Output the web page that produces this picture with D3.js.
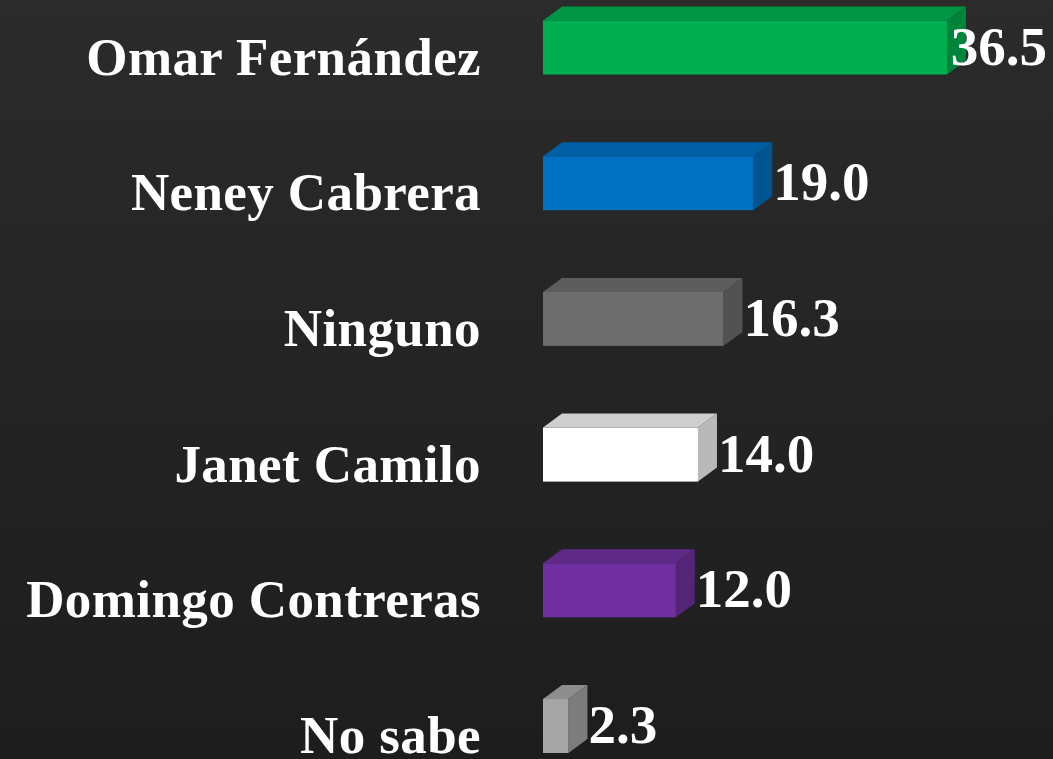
<!DOCTYPE html>
<meta charset="utf-8">
<style>
body { margin: 0; background: #222; }
svg { display: block; }
.cat, .val {
  font-family: "Liberation Serif", "DejaVu Serif", serif;
  font-weight: bold;
  fill: #fff;
}
</style>
<body>
<script src="https://d3js.org/d3.v7.min.js"></script>
<script>

// data
var names = ["Omar Fernández", "Neney Cabrera", "Ninguno", "Janet Camilo", "Domingo Contreras", "No sabe"];
var values = [36.5, 19.0, 16.3, 14.0, 12.0, 2.3];
var frontColors = ["#00b050", "#0070c0", "#6d6d6d", "#ffffff", "#7030a0", "#a5a5a5"];

var width = 1053, height = 759;
var barH = 54, dx = 19, dy = -14;

var svg = d3.select("body").append("svg")
    .attr("width", width)
    .attr("height", height);

// dark background
var defs = svg.append("defs");
var grad = defs.append("linearGradient")
    .attr("id", "bg").attr("x1", 0).attr("y1", 0).attr("x2", 0).attr("y2", 1);
grad.append("stop").attr("offset", "0%").attr("stop-color", "#2b2b2b");
grad.append("stop").attr("offset", "100%").attr("stop-color", "#1d1d1d");
svg.append("rect").attr("width", width).attr("height", height).attr("fill", "url(#bg)");

// scales
var x = d3.scaleLinear().domain([0, 36.5]).range([543, 947]);
var y = d3.scalePoint().domain(names).range([47.5, 726]);

var rows = names.map(function(n, i) {
  return {name: n, value: values[i], color: frontColors[i]};
});

var g = svg.selectAll(".bar").data(rows).enter().append("g").attr("class", "bar");

// top face
g.append("path")
    .attr("d", function(d) {
      var x0 = x(0), x1 = x(d.value), t = y(d.name) - barH / 2;
      return "M" + x0 + "," + t + "L" + (x0 + dx) + "," + (t + dy) +
             "L" + (x1 + dx) + "," + (t + dy) + "L" + x1 + "," + t + "Z";
    })
    .attr("fill", function(d) { return d3.color(d.color).darker(d.color == "#ffffff" ? 0.6 : 0.45); });

// side face
g.append("path")
    .attr("d", function(d) {
      var x1 = x(d.value), t = y(d.name) - barH / 2, b = t + barH;
      return "M" + x1 + "," + t + "L" + (x1 + dx) + "," + (t + dy) +
             "L" + (x1 + dx) + "," + (b + dy) + "L" + x1 + "," + b + "Z";
    })
    .attr("fill", function(d) { return d3.color(d.color).darker(d.color == "#ffffff" ? 0.9 : 0.8); });

// front face
g.append("rect")
    .attr("x", x(0))
    .attr("y", function(d) { return y(d.name) - barH / 2; })
    .attr("width", function(d) { return x(d.value) - x(0); })
    .attr("height", barH)
    .attr("fill", function(d) { return d.color; });

// category labels
svg.selectAll(".cat").data(rows).enter().append("text")
    .attr("class", "cat")
    .attr("x", 481)
    .attr("y", function(d) { return y(d.name) + 27; })
    .attr("text-anchor", "end")
    .style("font-size", "53px")
    .style("letter-spacing", "0.4px")
    .text(function(d) { return d.name; });

// value labels, pushed back inside the frame if they would overflow
svg.selectAll(".val").data(rows).enter().append("text")
    .attr("class", "val")
    .attr("y", function(d) { return y(d.name) + 17; })
    .style("font-size", "55px")
    .text(function(d) { return d.value.toFixed(1); })
    .attr("x", function(d) {
      var w = this.getComputedTextLength();
      return Math.min(x(d.value) + dx + 1, width - 6 - w);
    });

</script>
</body>
